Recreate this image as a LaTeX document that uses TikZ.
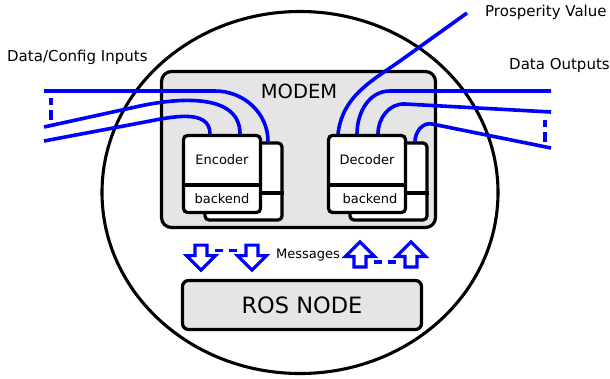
\documentclass[tikz,border=0pt]{standalone}
\usepackage{fontspec}
\setmainfont{DejaVu Sans}
\usetikzlibrary{shapes.geometric, shapes.arrows}

\begin{document}
\begin{tikzpicture}[x=1pt, y=1pt,
    frame/.style={draw=black, line width=3.2pt, rounded corners=4pt},
    unit/.style={frame, fill=white, minimum width=77pt, minimum height=77pt, inner sep=0pt},
    wire/.style={draw=blue, line width=3.6pt},
    gap/.style={wire, dash pattern=on 8pt off 6pt},
    msg/.style={single arrow, draw=blue, line width=3.2pt, fill=white, inner sep=4.4pt,
        minimum height=25pt, single arrow head extend=8.5pt},
    note/.style={inner sep=0pt, font=\fontsize{15}{18}\selectfont},
    small/.style={inner sep=0pt, font=\fontsize{13}{16}\selectfont}]
    \useasboundingbox (0,0) rectangle (610,-378);

    % Host
    \node[ellipse, draw, line width=3.1pt, inner sep=0pt, minimum width=396pt, minimum height=362pt] (host) at (300,-192.5) {};

    % Modem
    \node[frame, fill=gray!20, rounded corners=10pt, minimum width=274pt, minimum height=156pt] (modem) at (298.5,-149.5) {};
    \node[anchor=base, inner sep=0pt, font=\fontsize{19.5}{23}\selectfont] (modemname) at (299,-98) {MODEM};

    % Encoder
    \node[unit] (encback) at (243.5,-181.5) {};
    \draw[frame] ([yshift=-11.5pt]encback.west) -- ([yshift=-11.5pt]encback.east);
    \node[unit] (enc) at (222,-174) {};
    \draw[frame] ([yshift=-11pt]enc.west) -- ([yshift=-11pt]enc.east);
    \node[small, anchor=base] (encname) at (222,-164) {Encoder};
    \node[small, anchor=base] (encbe) at (222,-203) {backend};

    % Decoder
    \node[unit] (decback) at (388.5,-181.5) {};
    \draw[frame] ([yshift=-11.5pt]decback.west) -- ([yshift=-11.5pt]decback.east);
    \node[unit] (dec) at (367,-174) {};
    \draw[frame] ([yshift=-11pt]dec.west) -- ([yshift=-11pt]dec.east);
    \node[small, anchor=base] (decname) at (367,-164) {Decoder};
    \node[small, anchor=base] (decbe) at (370,-203) {backend};

    % Messages
    \node[msg, shape border rotate=270, anchor=tail] (down1) at (201,-243.5) {};
    \node[msg, shape border rotate=270, anchor=tail] (down2) at (252,-243.5) {};
    \node[msg, shape border rotate=90, anchor=tail] (up1) at (360,-268.5) {};
    \node[msg, shape border rotate=90, anchor=tail] (up2) at (411,-268.5) {};
    \draw[gap] ([xshift=14pt,yshift=-7pt]down1.tail) -- ([xshift=-15pt,yshift=-7pt]down2.tail);
    \draw[gap] ([xshift=14pt,yshift=6.5pt]up1.tail) -- ([xshift=-15pt,yshift=6.5pt]up2.tail);
    \node[small, anchor=base] (msgname) at (308,-258) {Messages};

    % ROS node
    \node[frame, fill=gray!20, rounded corners=6pt, minimum width=239pt, minimum height=49pt,
        font=\fontsize{22.5}{27}\selectfont] (ros) at (302,-305) {ROS NODE};

    % Wire ends
    \coordinate (in1) at (44,-91);
    \coordinate (in2) at (44,-127);
    \coordinate (in3) at (44,-141);
    \coordinate (out1) at (551,-91);
    \coordinate (out2) at (551,-112);
    \coordinate (out3) at (551,-148);
    \coordinate (prosp) at (467,-13);

    % Inputs
    \draw[wire] (in1) -- (215,-91) to[out=0,in=90] ([xshift=24.5pt]encback.north);
    \draw[wire] (in2) -- (140,-106) to[out=12,in=90] ([xshift=18pt]enc.north);
    \draw[wire] (in3) -- (145,-122) to[out=11,in=90] ([xshift=-12pt]enc.north);
    \draw[wire, dash pattern=on 7pt off 5pt on 10pt off 5pt] (51,-98) -- (51,-121);

    % Outputs
    \draw[wire] ([xshift=-29pt]dec.north) to[out=83,in=215] (400,-61) -- (prosp);
    \draw[wire] ([xshift=-10pt]dec.north) to[out=90,in=180] (390,-91) -- (out1);
    \draw[wire] ([xshift=11pt]dec.north) to[out=90,in=177] (405,-104) -- (out2);
    \draw[wire] ([xshift=26.5pt]decback.north) to[out=90,in=168] (432,-124) -- (out3);
    \draw[wire, dash pattern=on 7pt off 5pt on 10pt off 5pt] (545,-120) -- (545,-143);

    % Labels
    \node[note, anchor=base west] (inname) at (7,-61) {Data/Config Inputs};
    \node[note, anchor=base west] (outname) at (509,-69) {Data Outputs};
    \node[note, anchor=base west] (prospname) at (485,-16) {Prosperity Value};
\end{tikzpicture}
\end{document}
